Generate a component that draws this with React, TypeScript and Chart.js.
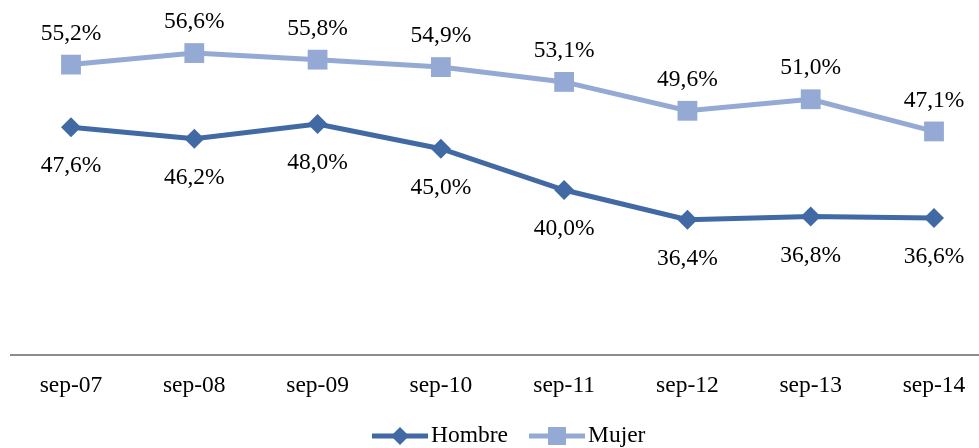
import React, { useEffect, useRef } from "react";
import { Chart, registerables } from "chart.js";

Chart.register(...registerables);

const categories = ["sep-07", "sep-08", "sep-09", "sep-10", "sep-11", "sep-12", "sep-13", "sep-14"];
const hombre = [47.6, 46.2, 48.0, 45.0, 40.0, 36.4, 36.8, 36.6];
const mujer = [55.2, 56.6, 55.8, 54.9, 53.1, 49.6, 51.0, 47.1];
const seriesNames = ["Hombre", "Mujer"];

const HOMBRE_COLOR = "#4169a4";
const MUJER_COLOR = "#94aad4";
const FONT = "Liberation Serif";
const FS = 23.5;

const fmt = (v: number) => v.toFixed(1).replace(".", ",") + "%";

const overlayPlugin = {
  id: "overlay",
  beforeDatasetsDraw(chart: any) {
    const ctx = chart.ctx;
    const y = chart.scales.y.getPixelForValue(20);
    ctx.save();
    ctx.strokeStyle = "#8c8c8c";
    ctx.lineWidth = 2;
    ctx.beginPath();
    ctx.moveTo(10, y);
    ctx.lineTo(chart.width, y);
    ctx.stroke();
    ctx.restore();
  },
  afterDatasetsDraw(chart: any) {
    const ctx = chart.ctx;
    ctx.save();
    ctx.font = `${FS}px "${FONT}"`;
    ctx.fillStyle = "#000";
    ctx.textAlign = "center";
    ctx.textBaseline = "middle";
    chart.data.datasets.forEach((ds: any, di: number) => {
      const meta = chart.getDatasetMeta(di);
      meta.data.forEach((pt: any, i: number) => {
        const off = di === 0 ? 39 : -31;
        ctx.fillText(fmt(ds.data[i]), pt.x, pt.y + off);
      });
    });
    ctx.restore();
  },
  afterDraw(chart: any) {
    const ctx = chart.ctx;
    ctx.save();
    ctx.font = `${FS}px "${FONT}"`;
    ctx.textBaseline = "middle";
    ctx.textAlign = "left";
    const ly = 436;
    let x = 372;
    chart.data.datasets.forEach((ds: any, di: number) => {
      const lineLen = 56;
      ctx.strokeStyle = ds.borderColor;
      ctx.lineWidth = 5;
      ctx.beginPath();
      ctx.moveTo(x, ly);
      ctx.lineTo(x + lineLen, ly);
      ctx.stroke();
      const cx = x + lineLen / 2;
      ctx.fillStyle = ds.borderColor;
      ctx.beginPath();
      if (di === 0) {
        ctx.moveTo(cx - 9, ly);
        ctx.lineTo(cx, ly - 9);
        ctx.lineTo(cx + 9, ly);
        ctx.lineTo(cx, ly + 9);
        ctx.closePath();
      } else {
        ctx.rect(cx - 9, ly - 9, 18, 18);
      }
      ctx.fill();
      ctx.fillStyle = "#000";
      const tx = x + lineLen + 3;
      ctx.fillText(seriesNames[di], tx, ly);
      x = tx + ctx.measureText(seriesNames[di]).width + 21;
    });
    ctx.restore();
  },
};

export default function App() {
  const ref = useRef<HTMLCanvasElement | null>(null);
  useEffect(() => {
    if (!ref.current) return;
    const chart = new Chart(ref.current, {
      type: "line",
      data: {
        labels: categories,
        datasets: [
          {
            label: seriesNames[0],
            data: hombre,
            borderColor: HOMBRE_COLOR,
            backgroundColor: HOMBRE_COLOR,
            borderWidth: 5,
            pointStyle: "rectRot",
            pointRadius: 10,
            pointBorderWidth: 0,
            tension: 0,
          },
          {
            label: seriesNames[1],
            data: mujer,
            borderColor: MUJER_COLOR,
            backgroundColor: MUJER_COLOR,
            borderWidth: 5,
            pointStyle: "rect",
            pointRadius: 14,
            pointBorderWidth: 0,
            tension: 0,
          },
        ],
      },
      options: {
        animation: false,
        responsive: false,
        maintainAspectRatio: false,
        layout: { padding: { left: 71, right: 45, top: 25, bottom: 0 } },
        plugins: { legend: { display: false }, tooltip: { enabled: false } },
        scales: {
          x: {
            offset: false,
            grid: { display: false },
            border: { display: false },
            ticks: { color: "#000", font: { family: FONT, size: FS }, padding: 9, maxRotation: 0 },
            afterFit: (s: any) => {
              s.height = 93;
            },
          },
          y: { display: false, min: 20, max: 60 },
        },
      },
      plugins: [overlayPlugin],
    });
    return () => chart.destroy();
  }, []);
  return (
    <div style={{ position: "absolute", left: 0, top: 0, width: 979, height: 448, background: "#fff" }}>
      <canvas ref={ref} width={979} height={448} style={{ width: 979, height: 448 }} />
    </div>
  );
}
